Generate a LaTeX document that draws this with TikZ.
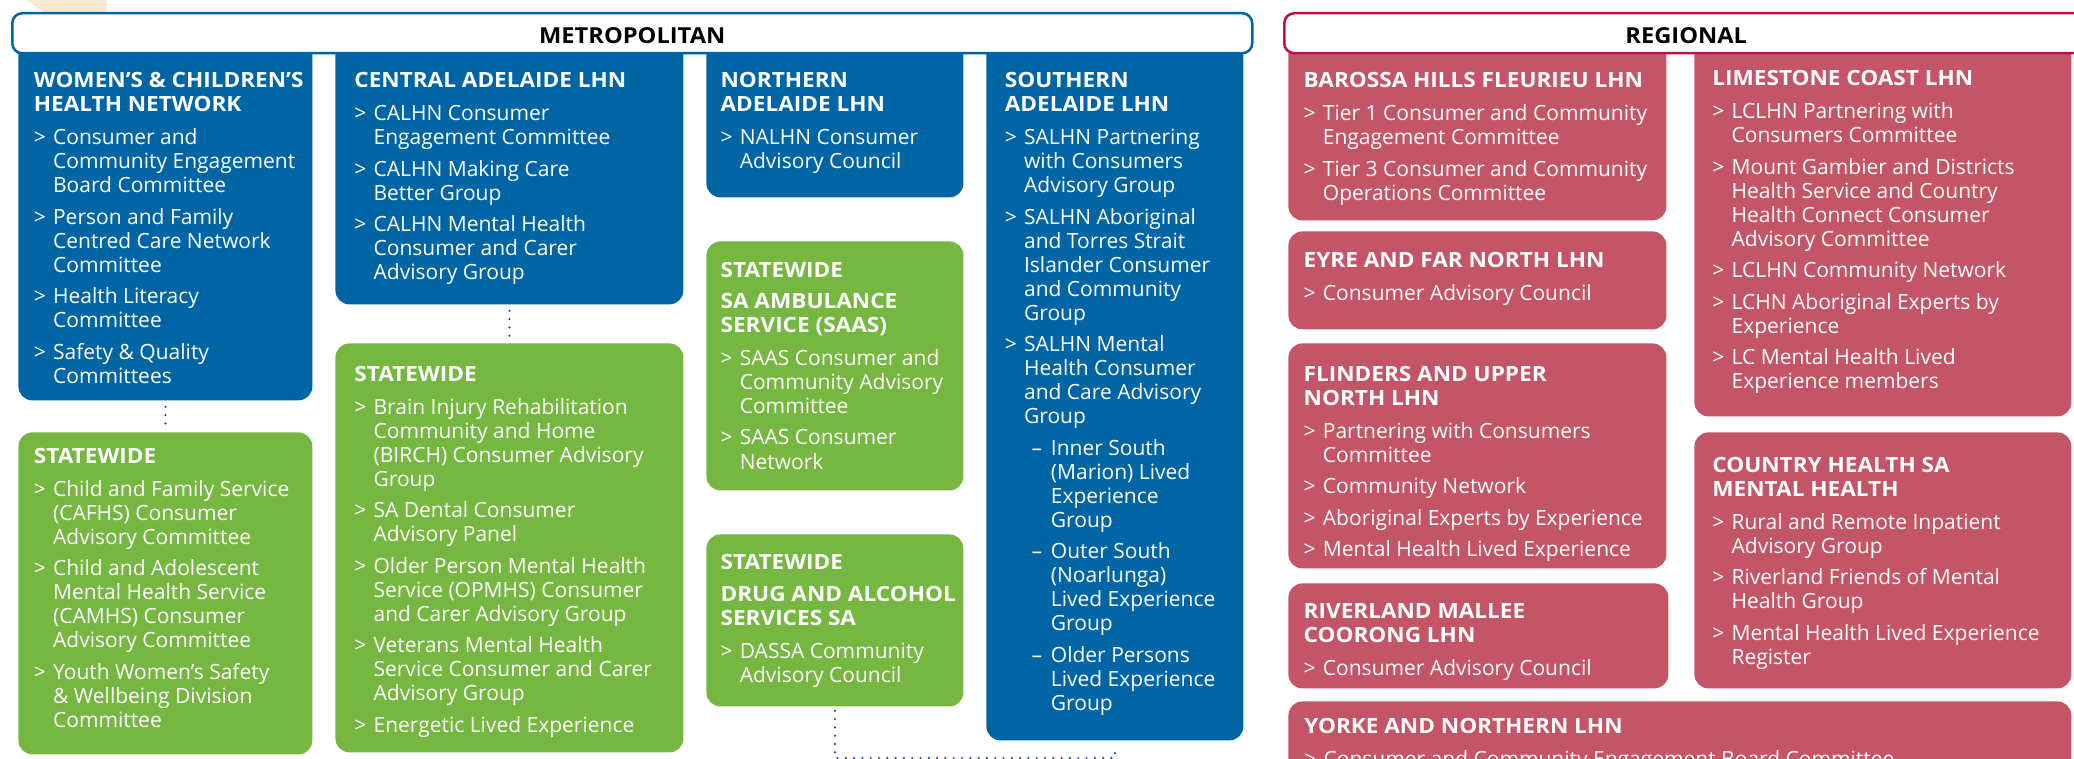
\documentclass[tikz,border=0pt]{standalone}
\usepackage{fontspec}
\setmainfont{Open Sans}[BoldFeatures={FakeStretch=1.075}]
\definecolor{cblue}{HTML}{0065A4}
\definecolor{cgreen}{HTML}{76B741}
\definecolor{cred}{HTML}{C45566}
\definecolor{cregline}{HTML}{BE0F45}
\definecolor{cdot}{HTML}{1B4D7E}
\definecolor{ctan}{HTML}{F7EAD0}
\newcommand\itb{\makebox[9.6pt][l]{>}}
\newcommand\itc{\hspace*{9.6pt}}
\newcommand\subd{\hspace*{13.4pt}\makebox[9.6pt][l]{–}}
\newcommand\subi{\hspace*{23pt}}
\newcommand\tops{\rule{0pt}{8pt}}
\begin{document}
\begin{tikzpicture}[x=0.5pt,y=-0.5pt,
  bx/.style={rectangle, rounded corners=7pt, inner sep=0pt, anchor=north west, draw=none},
  bluebox/.style={bx, fill=cblue},
  greenbox/.style={bx, fill=cgreen},
  redbox/.style={bx, fill=cred},
  hdr/.style={rectangle, rounded corners=5pt, fill=white, line width=1.25pt, anchor=north west, inner sep=0pt, font=\fontsize{11pt}{13pt}\selectfont\bfseries, text=black},
  txt/.style={anchor=north west, inner sep=0pt, align=left, text=white, font=\fontsize{10.5pt}{12pt}\selectfont, yshift=8pt},
  conn/.style={draw=cdot, line width=1.2pt, line cap=round, dash pattern=on 0pt off 4.15pt}
]
\useasboundingbox (0,0) rectangle (2074,759);
\clip (0,0) rectangle (2074,759);
\fill[ctan] (27,0) -- (107,0) -- (106,12) -- (43,12) -- cycle;

% boxes
\node[bluebox, minimum width=147pt, minimum height=180pt] (wch) at (18,40) {};
\node[bluebox, minimum width=174pt, minimum height=132pt] (cal) at (335,40) {};
\node[bluebox, minimum width=128.5pt, minimum height=78.5pt] (nal) at (706,40) {};
\node[bluebox, minimum width=128.5pt, minimum height=350pt] (sal) at (986,40) {};
\node[greenbox, minimum width=147pt, minimum height=161pt] (sws) at (18,432) {};
\node[greenbox, minimum width=174pt, minimum height=204.5pt] (swc) at (335,343) {};
\node[greenbox, minimum width=128.5pt, minimum height=124.5pt] (saas) at (706,241) {};
\node[greenbox, minimum width=128.5pt, minimum height=86pt] (dassa) at (706,534) {};
\node[redbox, minimum width=189pt, minimum height=90pt] (bhf) at (1288,40) {};
\node[redbox, minimum width=189pt, minimum height=49pt] (efn) at (1288,231) {};
\node[redbox, minimum width=189pt, minimum height=112.5pt] (fun) at (1288,343) {};
\node[redbox, minimum width=190pt, minimum height=52.5pt] (rmc) at (1288,583) {};
\node[redbox, minimum width=188.5pt, minimum height=188pt] (lc) at (1694,40) {};
\node[redbox, minimum width=188.5pt, minimum height=128pt] (chsa) at (1694,432) {};
\node[redbox, minimum width=391.5pt, minimum height=60pt] (yn) at (1288,701) {};

% headers
\node[hdr, draw=cblue, minimum width=620pt, minimum height=20pt] (metro) at (11,12) {\raisebox{-1pt}[\height][\depth]{METROPOLITAN}};
\node[hdr, draw=cregline, minimum width=402pt, minimum height=20pt] (reg) at (1283,12) {\raisebox{-1pt}[\height][\depth]{REGIONAL}};

% texts (positions are first baselines; yshift puts the 8pt strut top there)
\node[txt] (wcht) at (33.5,87.3) {\tops\textbf{WOMEN’S \& CHILDREN’S}\\
\textbf{HEALTH NETWORK}\\[4.5pt]
\itb Consumer and\\
\itc Community Engagement\\
\itc Board Committee\\[3.75pt]
\itb Person and Family\\
\itc Centred Care Network\\
\itc Committee\\[3.75pt]
\itb Health Literacy\\
\itc Committee\\[3.75pt]
\itb Safety \& Quality\\
\itc Committees};

\node[txt] (calt) at (354,87.3) {\tops\textbf{CENTRAL ADELAIDE LHN}\\[4.5pt]
\itb CALHN Consumer\\
\itc Engagement Committee\\[3.75pt]
\itb CALHN Making Care\\
\itc Better Group\\[3.75pt]
\itb CALHN Mental Health\\
\itc Consumer and Carer\\
\itc Advisory Group};

\node[txt] (nalt) at (720.2,87.3) {\tops\textbf{NORTHERN}\\
\textbf{ADELAIDE LHN}\\[4.5pt]
\itb NALHN Consumer\\
\itc Advisory Council};

\node[txt] (salt) at (1004.5,87.3) {\tops\textbf{SOUTHERN}\\
\textbf{ADELAIDE LHN}\\[4.5pt]
\itb SALHN Partnering\\
\itc with Consumers\\
\itc Advisory Group\\[3.75pt]
\itb SALHN Aboriginal\\
\itc and Torres Strait\\
\itc Islander Consumer\\
\itc and Community\\
\itc Group\\[3.75pt]
\itb SALHN Mental\\
\itc Health Consumer\\
\itc and Care Advisory\\
\itc Group\\[3.75pt]
\subd Inner South\\
\subi (Marion) Lived\\
\subi Experience\\
\subi Group\\[3.75pt]
\subd Outer South\\
\subi (Noarlunga)\\
\subi Lived Experience\\
\subi Group\\[3.75pt]
\subd Older Persons\\
\subi Lived Experience\\
\subi Group};

\node[txt] (swst) at (33.5,462.7) {\tops\textbf{STATEWIDE}\\[4.5pt]
\itb Child and Family Service\\
\itc (CAFHS) Consumer\\
\itc Advisory Committee\\[3.75pt]
\itb Child and Adolescent\\
\itc Mental Health Service\\
\itc (CAMHS) Consumer\\
\itc Advisory Committee\\[3.75pt]
\itb Youth Women’s Safety\\
\itc \& Wellbeing Division\\
\itc Committee};

\node[txt] (swct) at (354,380.7) {\tops\textbf{STATEWIDE}\\[4.5pt]
\itb Brain Injury Rehabilitation\\
\itc Community and Home\\
\itc (BIRCH) Consumer Advisory\\
\itc Group\\[3.75pt]
\itb SA Dental Consumer\\
\itc Advisory Panel\\[3.75pt]
\itb Older Person Mental Health\\
\itc Service (OPMHS) Consumer\\
\itc and Carer Advisory Group\\[3.75pt]
\itb Veterans Mental Health\\
\itc Service Consumer and Carer\\
\itc Advisory Group\\[3.75pt]
\itb Energetic Lived Experience};

\node[txt] (saast) at (720.2,276.7) {\tops\textbf{STATEWIDE}\\[3.7pt]
\textbf{SA AMBULANCE}\\
\textbf{SERVICE (SAAS)}\\[4.5pt]
\itb SAAS Consumer and\\
\itc Community Advisory\\
\itc Committee\\[3.75pt]
\itb SAAS Consumer\\
\itc Network};

\node[txt] (dassat) at (720.2,569.3) {\tops\textbf{STATEWIDE}\\[3.7pt]
\textbf{DRUG AND ALCOHOL}\\
\textbf{SERVICES SA}\\[4.5pt]
\itb DASSA Community\\
\itc Advisory Council};

\node[txt] (bhft) at (1303.3,87.3) {\tops\textbf{BAROSSA HILLS FLEURIEU LHN}\\[4.5pt]
\itb Tier 1 Consumer and Community\\
\itc Engagement Committee\\[3.75pt]
\itb Tier 3 Consumer and Community\\
\itc Operations Committee};

\node[txt] (efnt) at (1303.3,266.7) {\tops\textbf{EYRE AND FAR NORTH LHN}\\[4.5pt]
\itb Consumer Advisory Council};

\node[txt] (funt) at (1303.3,380.7) {\tops\textbf{FLINDERS AND UPPER}\\
\textbf{NORTH LHN}\\[4.5pt]
\itb Partnering with Consumers\\
\itc Committee\\[3.75pt]
\itb Community Network\\[3.75pt]
\itb Aboriginal Experts by Experience\\[3.75pt]
\itb Mental Health Lived Experience};

\node[txt] (rmct) at (1303.3,617.7) {\tops\textbf{RIVERLAND MALLEE}\\
\textbf{COORONG LHN}\\[4.5pt]
\itb Consumer Advisory Council};

\node[txt] (lct) at (1712,85.3) {\tops\textbf{LIMESTONE COAST LHN}\\[4.5pt]
\itb LCLHN Partnering with\\
\itc Consumers Committee\\[3.75pt]
\itb Mount Gambier and Districts\\
\itc Health Service and Country\\
\itc Health Connect Consumer\\
\itc Advisory Committee\\[3.75pt]
\itb LCLHN Community Network\\[3.75pt]
\itb LCHN Aboriginal Experts by\\
\itc Experience\\[3.75pt]
\itb LC Mental Health Lived\\
\itc Experience members};

\node[txt] (chsat) at (1712,471.7) {\tops\textbf{COUNTRY HEALTH SA}\\
\textbf{MENTAL HEALTH}\\[4.5pt]
\itb Rural and Remote Inpatient\\
\itc Advisory Group\\[3.75pt]
\itb Riverland Friends of Mental\\
\itc Health Group\\[3.75pt]
\itb Mental Health Lived Experience\\
\itc Register};

\node[txt] (ynt) at (1304,732.7) {\tops\textbf{YORKE AND NORTHERN LHN}\\[4.5pt]
\itb Consumer and Community Engagement Board Committee};

% connectors
\draw[conn, shorten <=3pt, shorten >=2pt] (wch.south) -- (sws.north);
\draw[conn, shorten <=3pt, shorten >=2pt] (cal.south) -- (swc.north);
\coordinate (bot) at (835,758);
\draw[conn, shorten <=2pt, shorten >=4pt] (dassa.south) -- (dassa.south |- bot) -- (sal.south |- bot) -- (sal.south);
\end{tikzpicture}
\end{document}
